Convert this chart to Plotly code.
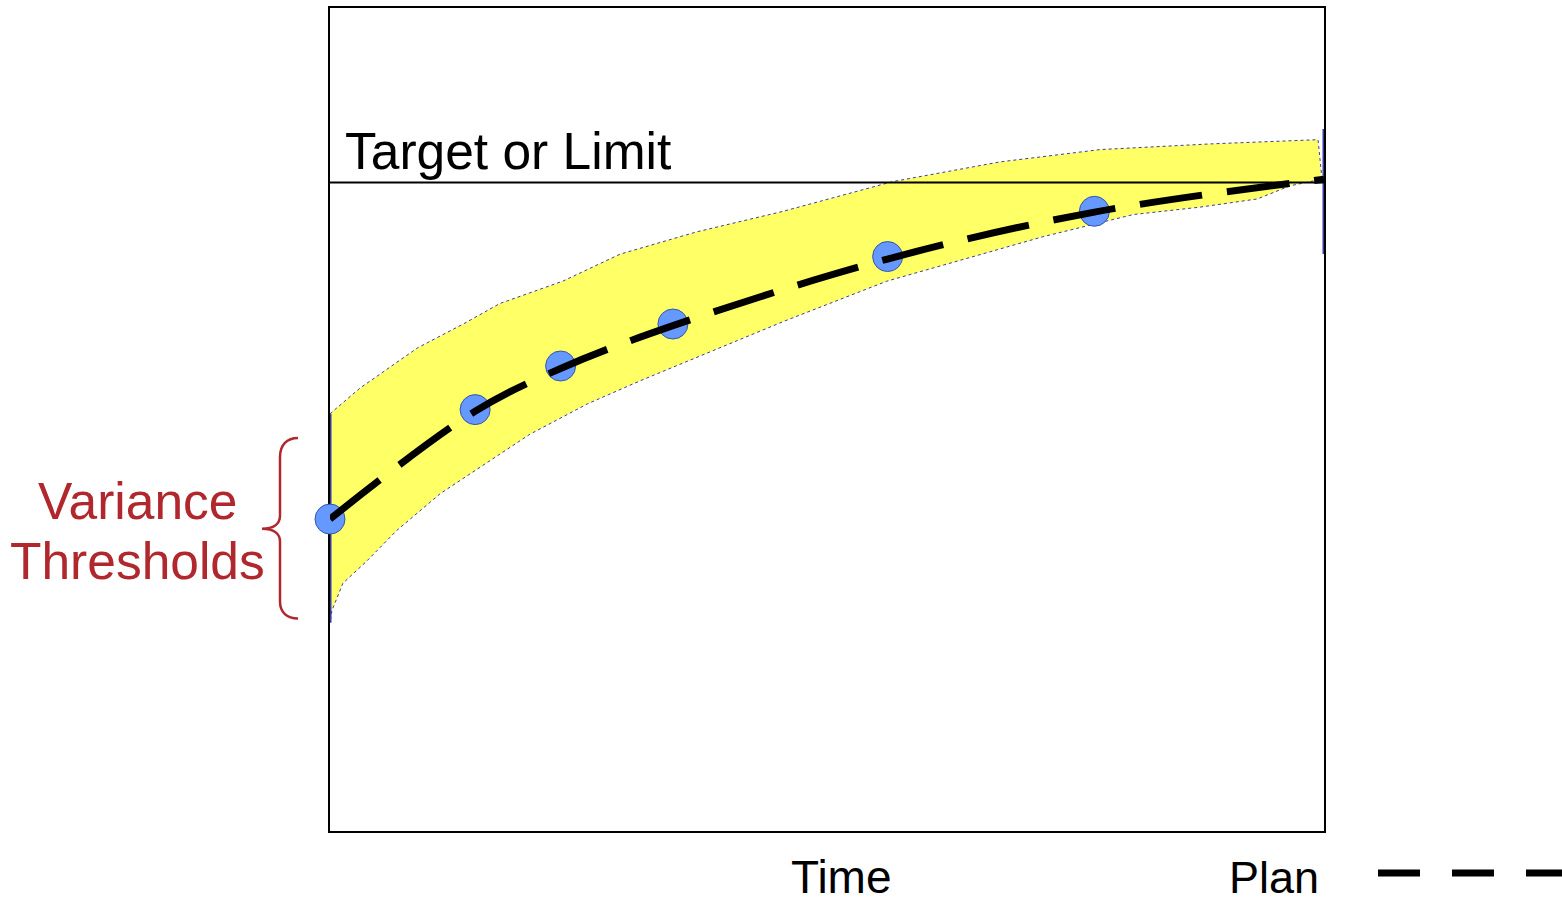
import plotly.graph_objects as go

# ---- data (time on x, measure on y; both axes run 0..10) ----
actual_x = [0.0, 1.46, 2.32, 3.45, 5.61, 7.69]
actual_y = [3.79, 5.12, 5.65, 6.16, 6.98, 7.53]

plan_x = [0.0, 1.46, 2.32, 3.45, 5.61, 7.69, 10.0]
plan_y = [3.79, 5.10, 5.62, 6.14, 6.95, 7.52, 7.92]

upper_x = [0.0, 0.30, 0.88, 1.34, 1.71, 2.34, 2.92, 3.69, 4.56, 5.66, 6.74, 7.75, 8.88, 9.94, 9.98]
upper_y = [5.07, 5.38, 5.87, 6.16, 6.41, 6.68, 7.01, 7.28, 7.53, 7.89, 8.13, 8.28, 8.35, 8.40, 7.92]

lower_x = [9.86, 9.66, 9.33, 8.75, 8.08, 7.17, 5.60, 4.56, 3.12, 2.59, 2.01, 1.41, 1.11, 0.67, 0.37, 0.13, 0.07, 0.02, 0.0]
lower_y = [7.89, 7.84, 7.68, 7.58, 7.49, 7.22, 6.68, 6.19, 5.47, 5.19, 4.82, 4.34, 4.10, 3.65, 3.28, 3.01, 2.84, 2.68, 2.53]

target_value = 7.88
end_marker_y = [7.01, 8.53]

# ---- page geometry ----
W, H = 1562, 905
L, R, T, B = 330, 238, 6, 74
PW, PH = W - L - R, H - T - B


def px(xp):
    return (xp - L) / PW


def py(yp):
    return (H - B - yp) / PH


FONT = "Liberation Sans, Arial, sans-serif"
RED = "#B0282E"
EDGE = "#3a3aa6"

fig = go.Figure()

# variance threshold band
fig.add_trace(go.Scatter(
    x=upper_x + lower_x, y=upper_y + lower_y,
    mode="lines", fill="toself", fillcolor="#FFFF66",
    line=dict(color=EDGE, width=1, dash="dot"),
    hoverinfo="skip",
))

# solid edges of the band at start, and the end marker
fig.add_trace(go.Scatter(
    x=[upper_x[0], lower_x[-1]], y=[upper_y[0], lower_y[-1]],
    mode="lines", line=dict(color=EDGE, width=3), cliponaxis=False,
))
fig.add_trace(go.Scatter(
    x=[10, 10], y=end_marker_y,
    mode="lines", line=dict(color=EDGE, width=3), cliponaxis=False,
))

# target / limit
fig.add_trace(go.Scatter(
    x=[0, 10], y=[target_value, target_value],
    mode="lines", line=dict(color="black", width=2),
))

# actual observations
fig.add_trace(go.Scatter(
    x=actual_x, y=actual_y, mode="markers",
    marker=dict(size=30, color="#6699FF", line=dict(color="#3355AA", width=1)),
    cliponaxis=False,
))

# plan curve
fig.add_trace(go.Scatter(
    x=plan_x, y=plan_y, mode="lines", line_shape="spline",
    line=dict(color="black", width=7, dash="63px,25px"),
    cliponaxis=False,
))

axis = dict(range=[0, 10], showgrid=False, zeroline=False, showticklabels=False,
            ticks="", showline=True, linecolor="black", linewidth=2, mirror=True,
            layer="below traces", fixedrange=True)

shapes = [
    # brace next to the variance label
    dict(type="path", xref="paper", yref="paper",
         path=(f"M {px(298)},{py(437)} C {px(287)},{py(437)} {px(280)},{py(444)} {px(280)},{py(456)} "
               f"L {px(280)},{py(515)} C {px(280)},{py(523)} {px(274)},{py(528)} {px(262)},{py(528)} "
               f"C {px(274)},{py(528)} {px(280)},{py(533)} {px(280)},{py(541)} "
               f"L {px(280)},{py(601)} C {px(280)},{py(612)} {px(287)},{py(618)} {px(298)},{py(618)}"),
         line=dict(color=RED, width=2.5)),
    # legend sample for the plan line
    dict(type="line", xref="paper", yref="paper",
         x0=px(1378), x1=px(1600), y0=py(873), y1=py(873),
         line=dict(color="black", width=7, dash="42px,32px")),
]


def label(text, xp, yp, size, color="black", xanchor="center"):
    return dict(text=text, x=px(xp), y=py(yp), xref="paper", yref="paper",
                xanchor=xanchor, yanchor="middle", showarrow=False,
                font=dict(family=FONT, size=size, color=color))


annotations = [
    label("Target or Limit", 343, 167 - 0.35 * 51.5, 51.5, xanchor="left"),
    label("Time", 841, 877, 46),
    label("Plan", 1227, 893 - 0.35 * 45, 45, xanchor="left"),
    label("Variance", 137, 518 - 0.35 * 51.5, 51.5, color=RED),
    label("Thresholds", 137, 578 - 0.35 * 51.5, 51.5, color=RED),
]

fig.update_layout(
    width=W, height=H,
    margin=dict(l=L, r=R, t=T, b=B, pad=0),
    paper_bgcolor="white", plot_bgcolor="white",
    showlegend=False,
    xaxis=axis, yaxis=axis,
    shapes=shapes, annotations=annotations,
)

fig.write_html("out.html", config={"displayModeBar": False})
